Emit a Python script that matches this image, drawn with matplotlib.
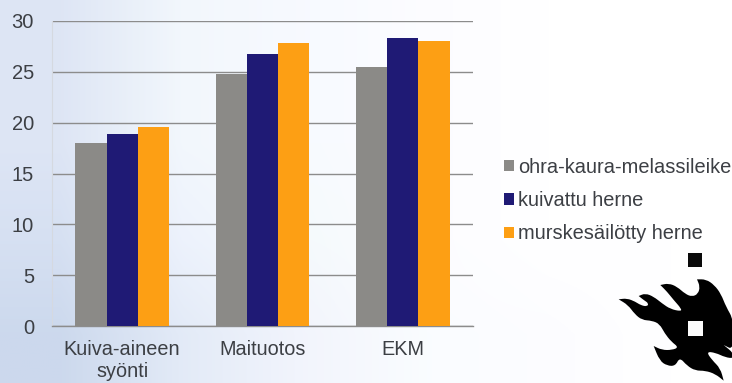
import matplotlib
matplotlib.use("Agg")
import matplotlib.pyplot as plt
from matplotlib.patches import PathPatch, Rectangle
from matplotlib.path import Path
import numpy as np

plt.rcParams['font.family'] = ['Liberation Sans', 'DejaVu Sans']

categories = ["Kuiva-aineen\nsyönti", "Maituotos", "EKM"]
series_names = ["ohra-kaura-melassileike", "kuivattu herne", "murskesäilötty herne"]
ohra = [18.0, 24.8, 25.5]
kuivattu = [18.9, 26.8, 28.3]
murske = [19.6, 27.8, 28.05]
colors = ["#8b8a87", "#1f1a75", "#fd9f14"]
y_ticks = [0, 5, 10, 15, 20, 25, 30]

W, H = 732, 383
TEXT = "#3c3f44"


def smooth_outline(pts):
    # closed outline through the midpoints, using each point as a quadratic control
    pts = np.array(pts, dtype=float)
    mids = (pts + np.roll(pts, -1, axis=0)) / 2
    verts = [mids[-1]]
    codes = [Path.MOVETO]
    for p, m in zip(pts, mids):
        verts += [p, m]
        codes += [Path.CURVE3, Path.CURVE3]
    return Path(verts, codes)


fig = plt.figure(figsize=(W / 100, H / 100), dpi=100)

# pale blue slide background, fading to white towards the right
bg = fig.add_axes([0, 0, 1, 1], zorder=0)
shades = np.array([
    [[0.87, 0.90, 0.96], [0.95, 0.97, 0.99], [0.97, 0.98, 1.00], [0.99, 0.99, 1.00], [1, 1, 1], [1, 1, 1]],
    [[0.87, 0.90, 0.96], [0.95, 0.97, 0.99], [0.97, 0.98, 1.00], [0.99, 0.99, 1.00], [1, 1, 1], [1, 1, 1]],
    [[0.84, 0.88, 0.95], [0.93, 0.95, 0.99], [0.96, 0.98, 0.99], [0.99, 0.99, 1.00], [1, 1, 1], [1, 1, 1]],
    [[0.80, 0.85, 0.93], [0.89, 0.92, 0.97], [0.95, 0.96, 0.99], [0.98, 0.99, 1.00], [0.99, 0.99, 1.00], [1, 1, 1]],
])
bg.imshow(shades, extent=[0, W, H, 0], aspect='auto', interpolation='bilinear')
bg.set_xlim(0, W)
bg.set_ylim(H, 0)
bg.axis('off')

# university flame logo, tips doubled so they stay pointed
flame = [(20, 88), (20, 88), (45, 85), (70, 95), (85, 105), (105, 110), (110, 100), (95, 90), (80, 78), (80, 78),
         (100, 70), (125, 80), (150, 100), (175, 117), (207, 124), (208, 116), (185, 90),
         (165, 65), (145, 45), (145, 45), (170, 40), (195, 50), (220, 72), (240, 80), (258, 72), (264, 50),
         (255, 28), (255, 28), (282, 28), (307, 45), (327, 72), (342, 110), (365, 150), (365, 240),
         (335, 225), (335, 225), (365, 250), (365, 265), (340, 262), (310, 248), (283, 245), (300, 270), (325, 295),
         (335, 332), (335, 332), (310, 312), (280, 302), (250, 302), (225, 287), (203, 262), (190, 288),
         (165, 287), (143, 272), (125, 228), (125, 228), (150, 240), (180, 240), (200, 232), (178, 215),
         (158, 190), (143, 162), (120, 152), (90, 150), (68, 132), (48, 105)]
flame_px = [(612 + x / 3, 270 + y / 3) for x, y in flame]
bg.add_patch(PathPatch(smooth_outline(flame_px), facecolor='black', edgecolor='none'))
bg.add_patch(Rectangle((688, 253), 14, 14, facecolor='#0a0a0a', edgecolor='none'))
bg.add_patch(Rectangle((688, 321), 14.5, 15, facecolor='#fbfbfb', edgecolor='none'))

ax = fig.add_axes([52 / W, (H - 326) / H, 421 / W, 305 / H], zorder=1)
ax.patch.set_alpha(0)

x = np.arange(len(categories))
bar_w = 0.2225
ax.bar(x - bar_w, ohra, bar_w, color=colors[0], label=series_names[0], zorder=3)
ax.bar(x, kuivattu, bar_w, color=colors[1], label=series_names[1], zorder=3)
ax.bar(x + bar_w, murske, bar_w, color=colors[2], label=series_names[2], zorder=3)

ax.set_xlim(-0.5, 2.5)
ax.set_ylim(0, 30)
ax.set_yticks(y_ticks)
ax.set_xticks(x)
ax.set_xticklabels(categories, linespacing=1.2)
ax.grid(axis='y', color='#8c8c8c', linewidth=1.0, zorder=1)
ax.tick_params(axis='y', length=0, pad=13, labelsize=14.5, labelcolor=TEXT)
ax.tick_params(axis='x', length=0, pad=10, labelsize=14.3, labelcolor=TEXT)

for side in ['top', 'right']:
    ax.spines[side].set_visible(False)
ax.spines['left'].set_color('#d5d9e0')
ax.spines['left'].set_linewidth(0.8)
ax.spines['bottom'].set_color('#8c8c8c')
ax.spines['bottom'].set_linewidth(1.0)

fig.legend(loc='center left', bbox_to_anchor=(504 / W, (H - 200.5) / H), frameon=False,
           fontsize=14.4, handlelength=0.5, handleheight=0.5, handletextpad=0.2,
           labelspacing=0.72, labelcolor=TEXT, borderpad=0, borderaxespad=0)

fig.savefig("out.png", dpi=100)
